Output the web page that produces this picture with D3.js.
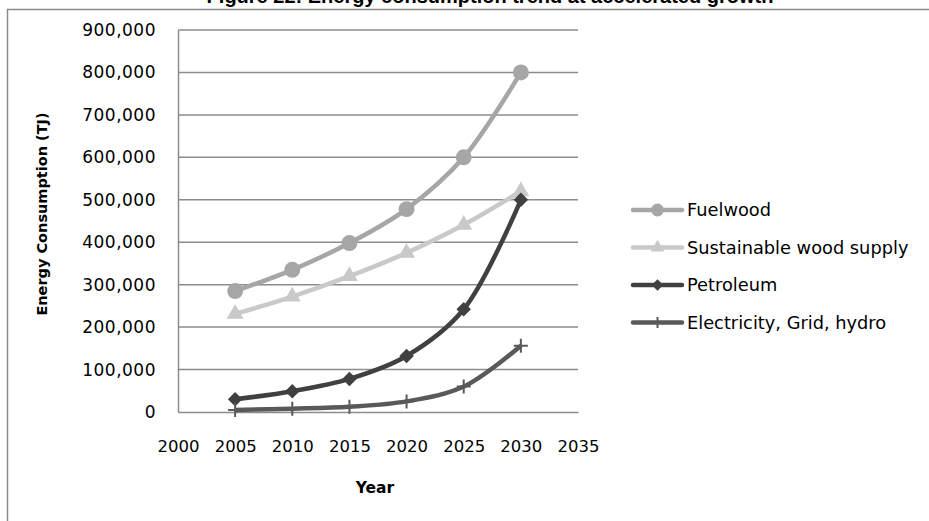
<!DOCTYPE html>
<html>
<head>
<meta charset="utf-8">
<script src="https://cdn.jsdelivr.net/npm/d3@7"></script>
<style>
  html, body { margin: 0; padding: 0; background: #fff; }
  svg { display: block; }
</style>
</head>
<body>
<svg id="chart" width="929" height="521"></svg>
<script>
// Energy consumption projections (TJ), accelerated growth scenario
const years = [2005, 2010, 2015, 2020, 2025, 2030];
const fuelwood = [285000, 335000, 398000, 478000, 600000, 800000];
const sustainableWood = [231000, 272000, 320000, 375000, 441000, 520000];
const petroleum = [30000, 49000, 78000, 132000, 242000, 500000];
const electricity = [4700, 7800, 12500, 25000, 60000, 156000];

const seriesNames = ["Fuelwood", "Sustainable wood supply", "Petroleum", "Electricity, Grid, hydro"];
const yTicks = [0, 100000, 200000, 300000, 400000, 500000, 600000, 700000, 800000, 900000];
const xTicks = [2000, 2005, 2010, 2015, 2020, 2025, 2030, 2035];

const series = [
  { name: seriesNames[0], values: fuelwood, color: "#a6a6a6", marker: "circle" },
  { name: seriesNames[1], values: sustainableWood, color: "#c9c9c9", marker: "triangle" },
  { name: seriesNames[2], values: petroleum, color: "#404040", marker: "diamond" },
  { name: seriesNames[3], values: electricity, color: "#595959", marker: "plus" }
];

const svg = d3.select("#chart");
const plot = { left: 178, right: 578, top: 30, bottom: 412 };

const x = d3.scaleLinear().domain([2000, 2035]).range([plot.left, plot.right]);
const y = d3.scaleLinear().domain([0, 900000]).range([plot.bottom, plot.top]);

const tickFont = "DejaVu Sans, sans-serif";

// outer chart frame
svg.append("rect")
  .attr("x", 7.5).attr("y", 9.5)
  .attr("width", 940).attr("height", 530)
  .attr("fill", "none").attr("stroke", "#8c8c8c").attr("stroke-width", 1.5);

// title
svg.append("text")
  .attr("x", 490).attr("y", 3)
  .attr("text-anchor", "middle")
  .attr("font-family", "Liberation Sans, Arial, sans-serif")
  .attr("font-weight", "bold")
  .attr("font-size", 20)
  .text("Figure 22: Energy consumption trend at accelerated growth");

// horizontal gridlines
svg.append("g")
  .selectAll("line")
  .data(yTicks.filter(d => d > 0))
  .join("line")
  .attr("x1", plot.left).attr("x2", plot.right)
  .attr("y1", d => y(d)).attr("y2", d => y(d))
  .attr("stroke", "#8c8c8c").attr("stroke-width", 1.5);

// y axis
const yAxis = svg.append("g")
  .attr("transform", `translate(${plot.left},0)`)
  .call(d3.axisLeft(y).tickValues(yTicks).tickSize(0).tickPadding(22)
    .tickFormat(d3.format(",")));
yAxis.select(".domain").attr("stroke", "#8c8c8c").attr("stroke-width", 1.5);
yAxis.selectAll("text")
  .attr("font-family", tickFont).attr("font-size", 17)
  .attr("letter-spacing", 0.5)
  .attr("fill", "#000");

// x axis
const xAxis = svg.append("g")
  .attr("transform", `translate(0,${plot.bottom})`)
  .call(d3.axisBottom(x).tickValues(xTicks).tickSize(0).tickPadding(28)
    .tickFormat(d3.format("d")));
xAxis.select(".domain").attr("stroke", "#8c8c8c").attr("stroke-width", 1.5);
xAxis.selectAll("text")
  .attr("font-family", tickFont).attr("font-size", 16.5)
  .attr("fill", "#000");

// axis titles
svg.append("text")
  .attr("x", 375).attr("y", 493)
  .attr("text-anchor", "middle")
  .attr("font-family", tickFont).attr("font-weight", "bold").attr("font-size", 15.5)
  .text("Year");

svg.append("text")
  .attr("transform", "translate(47,214) rotate(-90)")
  .attr("text-anchor", "middle")
  .attr("font-family", tickFont).attr("font-weight", "bold").attr("font-size", 14.5)
  .text("Energy Consumption (TJ)");

// marker drawing
function drawMarker(g, type, color, scale) {
  if (type === "plus") {
    const h = 7 * scale;
    g.append("path")
      .attr("d", `M${-h},0H${h}M0,${-h}V${h}`)
      .attr("stroke", color).attr("stroke-width", 2).attr("fill", "none");
    return;
  }
  let sym, size, rot = 0;
  if (type === "circle") { sym = d3.symbolCircle; size = 200; }
  else if (type === "triangle") { sym = d3.symbolTriangle; size = 125; }
  else { sym = d3.symbolSquare; size = 105; rot = 45; }
  g.append("path")
    .attr("d", d3.symbol(sym, size * scale * scale)())
    .attr("transform", `rotate(${rot})`)
    .attr("fill", color);
}

const line = d3.line()
  .x((d, i) => x(years[i]))
  .y(d => y(d))
  .curve(d3.curveCatmullRom.alpha(0.5));

series.forEach(s => {
  svg.append("path")
    .datum(s.values)
    .attr("d", line)
    .attr("fill", "none")
    .attr("stroke", s.color)
    .attr("stroke-width", 4.5)
    .attr("stroke-linejoin", "round");
  svg.append("g")
    .selectAll("g")
    .data(s.values)
    .join("g")
    .attr("transform", (d, i) => `translate(${x(years[i])},${y(d)})`)
    .each(function () { drawMarker(d3.select(this), s.marker, s.color, 1); });
});

// legend
const legend = svg.append("g");
series.forEach((s, i) => {
  const ly = 210 + i * 37.5;
  const row = legend.append("g").attr("transform", `translate(633,${ly})`);
  row.append("line")
    .attr("x1", 0).attr("x2", 49)
    .attr("y1", 0).attr("y2", 0)
    .attr("stroke", s.color).attr("stroke-width", 4.5).attr("stroke-linecap", "round");
  drawMarker(row.append("g").attr("transform", "translate(24.5,0)"), s.marker, s.color, 0.8);
  row.append("text")
    .attr("x", 54).attr("y", 0).attr("dy", "0.36em")
    .attr("font-family", tickFont).attr("font-size", 17.8)
    .attr("fill", "#000")
    .text(s.name);
});
</script>
</body>
</html>
